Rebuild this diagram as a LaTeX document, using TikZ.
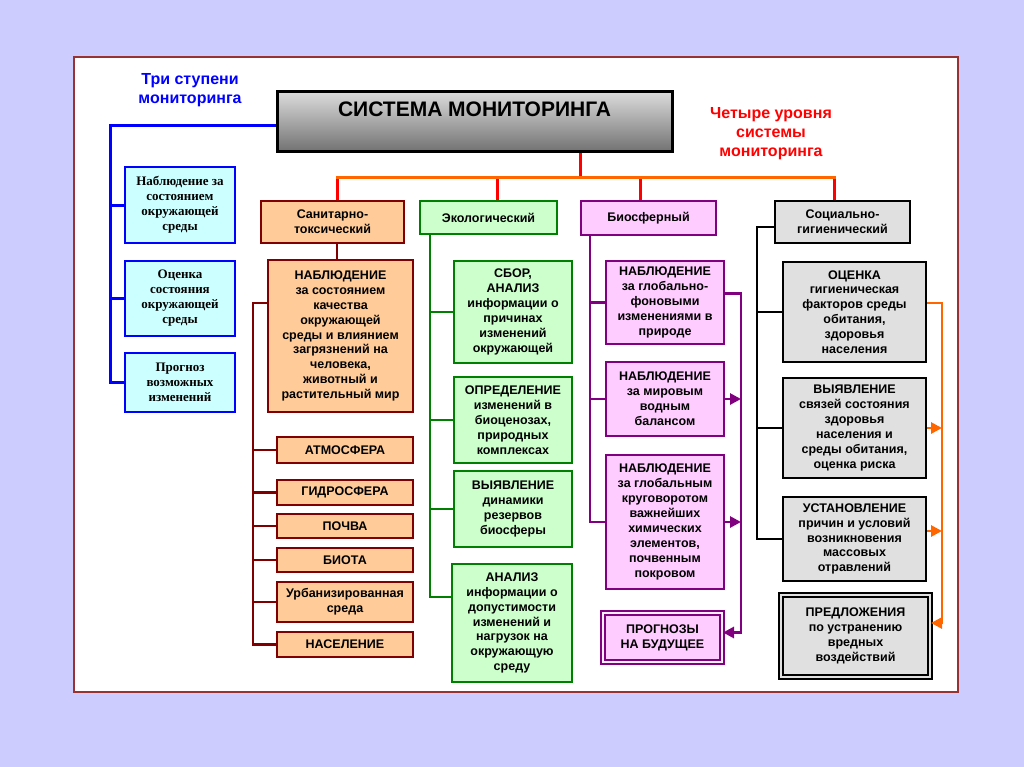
\documentclass[tikz,border=0pt]{standalone}
\usepackage{fontspec}
\setmainfont{Liberation Sans}
\newfontfamily\mytimes{Liberation Serif}
\usetikzlibrary{arrows.meta,calc}
\definecolor{bgc}{HTML}{CCCCFF}
\definecolor{frm}{HTML}{993333}
\definecolor{cy}{HTML}{CCFFFF}
\definecolor{bl}{HTML}{0000FF}
\definecolor{peach}{HTML}{FFCC99}
\definecolor{maroonc}{HTML}{800000}
\definecolor{lgreen}{HTML}{CCFFCC}
\definecolor{dgreen}{HTML}{008000}
\definecolor{lpink}{HTML}{FFCCFF}
\definecolor{dpurple}{HTML}{800080}
\definecolor{lgray}{HTML}{E0E0E0}
\definecolor{orng}{HTML}{FF6600}
\definecolor{rd}{HTML}{FF0000}
\newcommand\myboxfont{\fontsize{12.5bp}{14.9bp}\selectfont\bfseries}
\newcommand\mylevfont{\fontsize{12.5bp}{15bp}\selectfont\bfseries}
\newcommand\myserfont{\mytimes\fontsize{13bp}{15bp}\selectfont\bfseries}
\newcommand\myheadfont{\fontsize{16bp}{19bp}\selectfont\bfseries}
\begin{document}
\begin{tikzpicture}[x=1bp,y=-1bp,
  bx/.style={draw, line width=2.8bp, align=center, inner sep=0pt, font=\myboxfont},
  bluebox/.style={bx, draw=bl, fill=cy, font=\myserfont},
  sanbox/.style={bx, draw=maroonc, fill=peach},
  ecobox/.style={bx, draw=dgreen, fill=lgreen},
  biobox/.style={bx, draw=dpurple, fill=lpink},
  socbox/.style={bx, draw=black, fill=lgray},
  lev/.style={font=\mylevfont},
  conn/.style={line width=2.8bp},
  arr/.style={conn, -{Triangle[length=11bp,width=11bp]}},
  dbl/.style={line width=2bp, double distance=2.2bp},
]
% background and frame
\fill[bgc] (0,0) rectangle (1024,767);
\draw[frm, line width=1.2bp, fill=white] (74,57) rectangle (958,692);

% headings
\node[text=bl, font=\myheadfont, align=center] (t3) at (190,90) {Три ступени\\мониторинга};
\node[text=rd, font=\myheadfont, align=center] (t4) at (771,134) {Четыре уровня\\системы\\мониторинга};

% main box
\node[draw, line width=3bp, top color=black!14, middle color=black!8, bottom color=black!55,
      minimum width=395bp, minimum height=59bp, inner sep=4bp, text height=20bp, text depth=31bp,
      font=\fontsize{21bp}{24bp}\selectfont\bfseries] (main) at (474.5,121.5) {СИСТЕМА МОНИТОРИНГА};

% blue boxes
\node[bluebox, minimum width=110bp, minimum height=76bp] (b1) at (180,205) {Наблюдение за\\состоянием\\окружающей\\среды};
\node[bluebox, minimum width=110bp, minimum height=75bp] (b2) at (180,298.5) {Оценка\\состояния\\окружающей\\среды};
\node[bluebox, minimum width=110bp, minimum height=59bp] (b3) at (180,382.5) {Прогноз\\возможных\\изменений};

% level boxes
\node[sanbox, lev, minimum width=143bp, minimum height=42bp] (san) at (332.5,222) {Санитарно-\\токсический};
\node[ecobox, lev, minimum width=137bp, minimum height=33bp] (eco) at (488.5,217.5) {Экологический};
\node[biobox, lev, minimum width=135bp, minimum height=34bp] (bio) at (648.5,218) {Биосферный};
\node[socbox, lev, minimum width=135bp, minimum height=42bp] (soc) at (842.5,222) {Социально-\\гигиенический};

% sanitary column
\node[sanbox, minimum width=145bp, minimum height=152bp] (sn) at (340.5,336) {НАБЛЮДЕНИЕ\\за состоянием\\качества\\окружающей\\среды и влиянием\\загрязнений на\\человека,\\животный и\\растительный мир};
\node[sanbox, minimum width=136bp, minimum height=26bp] (s1) at (345,450) {АТМОСФЕРА};
\node[sanbox, minimum width=136bp, minimum height=25bp] (s2) at (345,492.5) {ГИДРОСФЕРА};
\node[sanbox, minimum width=136bp, minimum height=24bp] (s3) at (345,526) {ПОЧВА};
\node[sanbox, minimum width=136bp, minimum height=24bp] (s4) at (345,560) {БИОТА};
\node[sanbox, minimum width=136bp, minimum height=40bp] (s5) at (345,602) {Урбанизированная\\среда};
\node[sanbox, minimum width=136bp, minimum height=25bp] (s6) at (345,644.5) {НАСЕЛЕНИЕ};

% ecological column
\node[ecobox, minimum width=118bp, minimum height=102bp] (e1) at (513,312) {СБОР,\\АНАЛИЗ\\информации о\\причинах\\изменений\\окружающей};
\node[ecobox, minimum width=118bp, minimum height=86bp] (e2) at (513,420) {ОПРЕДЕЛЕНИЕ\\изменений в\\биоценозах,\\природных\\комплексах};
\node[ecobox, minimum width=118bp, minimum height=76bp] (e3) at (513,509) {ВЫЯВЛЕНИЕ\\динамики\\резервов\\биосферы};
\node[ecobox, minimum width=120bp, minimum height=118bp] (e4) at (512,623) {АНАЛИЗ\\информации о\\допустимости\\изменений и\\нагрузок на\\окружающую\\среду};

% biosphere column
\node[biobox, minimum width=118bp, minimum height=83bp] (p1) at (665,302.5) {НАБЛЮДЕНИЕ\\за глобально-\\фоновыми\\изменениями в\\природе};
\node[biobox, minimum width=118bp, minimum height=74bp] (p2) at (665,399) {НАБЛЮДЕНИЕ\\за мировым\\водным\\балансом};
\node[biobox, minimum width=118bp, minimum height=134bp] (p3) at (665,522) {НАБЛЮДЕНИЕ\\за глобальным\\круговоротом\\важнейших\\химических\\элементов,\\почвенным\\покровом};
\node[biobox, dbl, double={white!70!lpink}, minimum width=119bp, minimum height=49bp] (p4) at (662.5,637.5) {ПРОГНОЗЫ\\НА БУДУЩЕЕ};

% social column
\node[socbox, minimum width=143bp, minimum height=100bp] (g1) at (854.5,312) {ОЦЕНКА\\гигиеническая\\факторов среды\\обитания,\\здоровья\\населения};
\node[socbox, minimum width=143bp, minimum height=100bp] (g2) at (854.5,428) {ВЫЯВЛЕНИЕ\\связей состояния\\здоровья\\населения и\\среды обитания,\\оценка риска};
\node[socbox, minimum width=143bp, minimum height=84bp] (g3) at (854.5,539) {УСТАНОВЛЕНИЕ\\причин и условий\\возникновения\\массовых\\отравлений};
\node[socbox, dbl, double=black!12, minimum width=149bp, minimum height=82bp] (g4) at (855.5,636) {ПРЕДЛОЖЕНИЯ\\по устранению\\вредных\\воздействий};

% blue connectors
\coordinate (bv) at (110,125);
\draw[bl, line width=3bp] ([yshift=-3.5bp]main.west) -| (bv |- b3.west) -- (b3.west);
\draw[bl, line width=3bp] (b1.west -| bv) -- (b1.west);
\draw[bl, line width=3bp] (b2.west -| bv) -- (b2.west);

% red / orange connectors
\coordinate (hm) at (580,177);
\coordinate (h1) at (337,177);
\coordinate (h2) at (497,177);
\coordinate (h3) at (640,177);
\coordinate (h4) at (834,177);
\draw[rd, line width=3bp] (hm |- main.south) -- (hm);
\draw[rd, line width=3bp] (h1) -- (h1 |- san.north);
\draw[rd, line width=3bp] (h2) -- (h2 |- eco.north);
\draw[rd, line width=3bp] (h3) -- (h3 |- bio.north);
\draw[rd, line width=3bp] (h4) -- (h4 |- soc.north);
\draw[orng, line width=3bp, line cap=rect] (h1) -- (h4);

% sanitary connectors
\coordinate (sv) at (253,303);
\draw[conn, maroonc] (san.south -| h1) -- (sn.north -| h1);
\draw[conn, maroonc] (sv -| sn.west) -- (sv) -- (sv |- s6.west) -- (s6.west);
\foreach \s in {s1,s2,s3,s4,s5} \draw[conn, maroonc] (\s.west -| sv) -- (\s.west);

% ecological connectors
\coordinate (ev) at (430,240);
\coordinate (e4b) at ([yshift=26bp]e4.west);
\draw[conn, dgreen] (eco.south -| ev) -- (ev |- e4b) -- (e4b);
\foreach \s in {e1,e2,e3} \draw[conn, dgreen] (\s.west -| ev) -- (\s.west);

% biosphere connectors
\coordinate (pv) at (590,240);
\coordinate (pr) at (741,240);
\draw[conn, dpurple] (bio.south -| pv) -- (pv |- p3.west) -- (p3.west);
\foreach \s in {p1,p2} \draw[conn, dpurple] (\s.west -| pv) -- (\s.west);
\coordinate (p4a) at ([yshift=5bp]p4.east);
\draw[arr, dpurple] ([yshift=9bp]p1.east) -| (pr |- p4a) -- (p4a);
\draw[arr, dpurple] (p2.east) -- (p2.east -| pr);
\draw[arr, dpurple] (p3.east) -- (p3.east -| pr);

% social connectors
\coordinate (gv) at (757,240);
\coordinate (gr) at (942,240);
\draw[conn, black] ([yshift=-5bp]soc.west) -| (gv |- g3.west) -- (g3.west);
\foreach \s in {g1,g2} \draw[conn, black] (\s.west -| gv) -- (\s.west);
\coordinate (g4a) at ([yshift=13bp]g4.east);
\draw[arr, orng] ([yshift=9bp]g1.east) -| (gr |- g4a) -- (g4a);
\draw[arr, orng] (g2.east) -- (g2.east -| gr);
\draw[arr, orng] ([yshift=8bp]g3.east) -- ([yshift=8bp]g3.east -| gr);
\end{tikzpicture}
\end{document}
